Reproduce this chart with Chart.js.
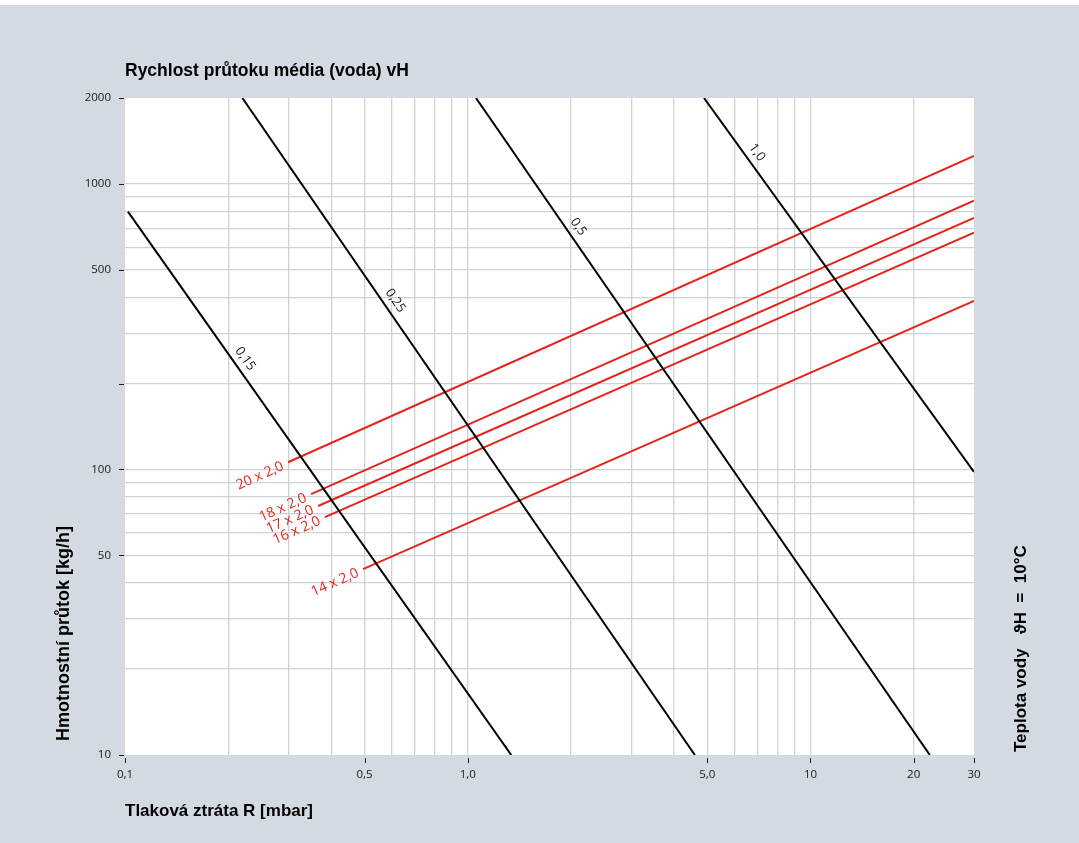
<!DOCTYPE html>
<html>
<head>
<meta charset="utf-8">
<script src="https://cdn.jsdelivr.net/npm/chart.js@4"></script>
<style>
  html, body { margin: 0; padding: 0; background: #fff; }
  canvas { display: block; }
</style>
</head>
<body>
<canvas id="chart" width="1079" height="843"></canvas>
<script>
// flow velocity lines (m/s), end points: [R mbar], [flow kg/h]
const speedNames = ['0,15', '0,25', '0,5', '1,0'];
const speedR = [[0.102, 1.34], [0.22, 4.6], [1.057, 22.3], [4.89, 30]];
const speedFlow = [[800, 10], [2000, 10], [2000, 10], [2000, 98]];
const speedLabelFlow = [232, 371, 673, 1223];

// pipe dimensions
const pipeNames = ['20 x 2,0', '18 x 2,0', '17 x 2,0', '16 x 2,0', '14 x 2,0'];
const pipeR = [[0.299, 30], [0.349, 30], [0.366, 30], [0.383, 30], [0.495, 30]];
const pipeFlow = [[106, 1253], [82, 874], [74.5, 760], [68.1, 675], [44.8, 389]];

// axes
const xTicks = [0.1, 0.5, 1, 5, 10, 20, 30];
const xTickLabels = ['0,1', '0,5', '1,0', '5,0', '10', '20', '30'];
const xGrid = [0.2, 0.3, 0.4, 0.5, 0.6, 0.7, 0.8, 0.9, 1, 2, 3, 4, 5, 6, 7, 8, 9, 10, 20];
const yTicks = [10, 50, 100, 200, 500, 1000, 2000];
const yTickLabels = ['10', '50', '100', '', '500', '1000', '2000'];
const yGrid = [20, 30, 40, 50, 60, 70, 80, 90, 100, 200, 300, 400, 500, 600, 700, 800, 900, 1000];

const BG = '#d3dae1';
const GRID = '#cad2da';
const RED = '#e3261c';
const TXT = '#1a1a1a';
const BOLD_FAMILY = '"Liberation Sans", Arial, sans-serif';
const SMALL = '"Open Sans", "Noto Sans", sans-serif';

function lineData(rs, fs) {
    return rs.map((r, i) => ({ x: r, y: fs[i] }));
}

let datasets = [];
speedNames.forEach((name, i) => {
    datasets.push({
        label: name,
        data: lineData(speedR[i], speedFlow[i]),
        borderColor: '#000',
        borderWidth: 2,
        showLine: true,
        pointRadius: 0
    });
});
pipeNames.forEach((name, i) => {
    datasets.push({
        label: name,
        data: lineData(pipeR[i], pipeFlow[i]),
        borderColor: RED,
        borderWidth: 2,
        showLine: true,
        pointRadius: 0
    });
});

function tickList(a, b) {
    return Array.from(new Set(a.concat(b))).sort((p, q) => p - q).map(v => ({ value: v }));
}

/**
 * Paints the grey sheet, the white plot area, tick marks, line labels and titles.
 */
const sheet = {
    id: 'sheet',
    beforeDraw(chart) {
        const { ctx, chartArea: a } = chart;
        ctx.save();
        ctx.fillStyle = '#fff';
        ctx.fillRect(0, 0, chart.width, chart.height);
        ctx.fillStyle = BG;
        ctx.fillRect(0, 5, chart.width, chart.height - 5);
        ctx.fillStyle = '#fff';
        ctx.fillRect(a.left, a.top, a.right - a.left, a.bottom - a.top);
        ctx.restore();
    },
    afterDraw(chart) {
        const { ctx, chartArea: a, scales: { x, y } } = chart;
        ctx.save();

        // tick marks
        ctx.strokeStyle = TXT;
        ctx.lineWidth = 1;
        ctx.beginPath();
        xTicks.forEach(v => {
            let px = Math.round(x.getPixelForValue(v)) + 0.5;
            ctx.moveTo(px, a.bottom + 3);
            ctx.lineTo(px, a.bottom + 8);
        });
        yTicks.forEach(v => {
            let py = Math.round(y.getPixelForValue(v)) + 0.5;
            ctx.moveTo(a.left - 6, py);
            ctx.lineTo(a.left - 1, py);
        });
        ctx.stroke();

        // pipe labels, on the extension of each red line
        ctx.fillStyle = RED;
        ctx.font = '14px ' + SMALL;
        pipeNames.forEach((name, i) => {
            let x0 = x.getPixelForValue(pipeR[i][0]), y0 = y.getPixelForValue(pipeFlow[i][0]);
            let x1 = x.getPixelForValue(pipeR[i][1]), y1 = y.getPixelForValue(pipeFlow[i][1]);
            ctx.save();
            ctx.translate(x0, y0);
            ctx.rotate(Math.atan2(y1 - y0, x1 - x0));
            ctx.textAlign = 'right';
            ctx.textBaseline = 'middle';
            ctx.fillText(name, -6, 1);
            ctx.restore();
        });

        // velocity labels, beside each black line
        ctx.fillStyle = TXT;
        ctx.font = '13px ' + SMALL;
        speedNames.forEach((name, i) => {
            let lf0 = Math.log10(speedFlow[i][0]), lf1 = Math.log10(speedFlow[i][1]);
            let t = (Math.log10(speedLabelFlow[i]) - lf0) / (lf1 - lf0);
            let lr = Math.log10(speedR[i][0]) + t * (Math.log10(speedR[i][1]) - Math.log10(speedR[i][0]));
            let px = x.getPixelForValue(Math.pow(10, lr)), py = y.getPixelForValue(speedLabelFlow[i]);
            let x0 = x.getPixelForValue(speedR[i][0]), y0 = y.getPixelForValue(speedFlow[i][0]);
            let x1 = x.getPixelForValue(speedR[i][1]), y1 = y.getPixelForValue(speedFlow[i][1]);
            ctx.save();
            ctx.translate(px, py);
            ctx.rotate(Math.atan2(y1 - y0, x1 - x0));
            ctx.textAlign = 'center';
            ctx.textBaseline = 'middle';
            ctx.fillText(name, 0, -11);
            ctx.restore();
        });

        // titles
        ctx.fillStyle = '#000';
        ctx.textAlign = 'left';
        ctx.textBaseline = 'middle';
        ctx.font = 'bold 17.5px ' + BOLD_FAMILY;
        ctx.fillText('Rychlost průtoku média (voda) vH', a.left, 71);
        ctx.font = 'bold 17px ' + BOLD_FAMILY;
        ctx.fillText('Tlaková ztráta R [mbar]', a.left, 811);

        ctx.save();
        ctx.translate(64, 741);
        ctx.rotate(-Math.PI / 2);
        ctx.font = 'bold 18px ' + BOLD_FAMILY;
        ctx.fillText('Hmotnostní průtok [kg/h]', 0, 0);
        ctx.restore();

        ctx.save();
        ctx.translate(1021, 752);
        ctx.rotate(-Math.PI / 2);
        ctx.font = 'bold 17px ' + BOLD_FAMILY;
        ctx.fillText('Teplota vody   \u03D1H  =  10°C', 0, 0);
        ctx.restore();

        ctx.restore();
    }
};

(function loadChart() {
    const ctx = document.getElementById('chart').getContext('2d');
    new Chart(ctx, {
        type: 'scatter',
        data: { datasets: datasets },
        options: {
            responsive: false,
            animation: false,
            devicePixelRatio: 1,
            layout: { padding: { left: 0, top: 98, right: 105, bottom: 0 } },
            plugins: {
                legend: { display: false },
                tooltip: { enabled: false }
            },
            scales: {
                x: {
                    type: 'logarithmic',
                    min: 0.1,
                    max: 30,
                    afterBuildTicks: (s) => { s.ticks = tickList(xTicks, xGrid); },
                    afterFit: (s) => { s.height = 88; },
                    border: { display: false },
                    grid: {
                        drawTicks: false,
                        color: (c) => (c.tick && xGrid.includes(c.tick.value)) ? GRID : 'rgba(0,0,0,0)',
                        lineWidth: 1.3
                    },
                    ticks: {
                        autoSkip: false,
                        maxRotation: 0,
                        padding: 13,
                        color: TXT,
                        font: { family: SMALL, size: 11.5 },
                        callback: (v) => {
                            let i = xTicks.indexOf(v);
                            return i < 0 ? '' : xTickLabels[i];
                        }
                    }
                },
                y: {
                    type: 'logarithmic',
                    min: 10,
                    max: 2000,
                    afterBuildTicks: (s) => { s.ticks = tickList(yTicks, yGrid); },
                    afterFit: (s) => { s.width = 125; },
                    border: { display: false },
                    grid: {
                        drawTicks: false,
                        color: (c) => (c.tick && yGrid.includes(c.tick.value)) ? GRID : 'rgba(0,0,0,0)',
                        lineWidth: 1.3
                    },
                    ticks: {
                        autoSkip: false,
                        padding: 14,
                        color: TXT,
                        font: { family: SMALL, size: 11.5 },
                        callback: (v) => {
                            let i = yTicks.indexOf(v);
                            return i < 0 ? '' : yTickLabels[i];
                        }
                    }
                }
            }
        },
        plugins: [sheet]
    });
})();
</script>
</body>
</html>
